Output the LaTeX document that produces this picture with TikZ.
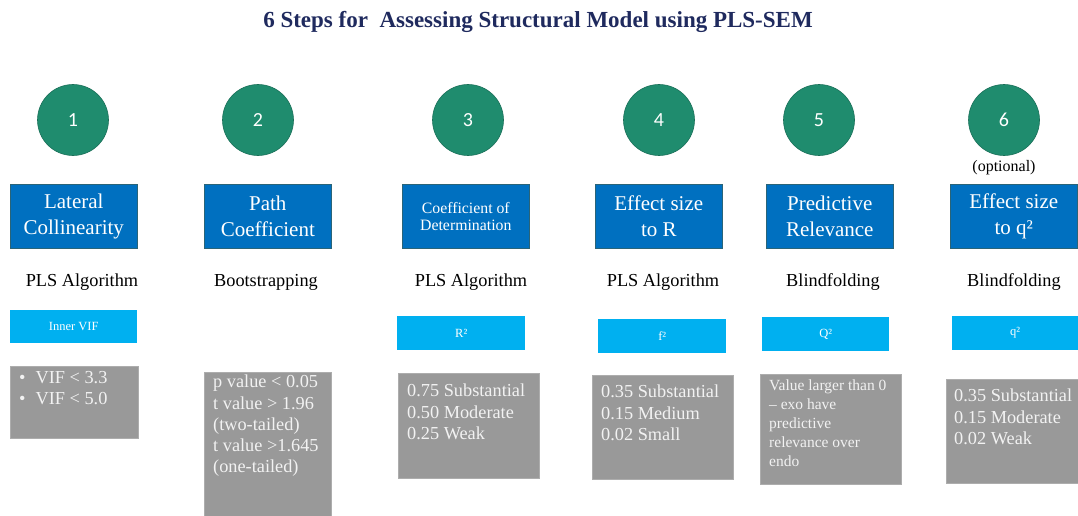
\documentclass[tikz,border=0pt]{standalone}
\usepackage{fontspec}
\setmainfont{Liberation Serif}
\newfontfamily\numfont{Carlito}
\definecolor{circfill}{HTML}{1F8C6E}
\definecolor{circline}{HTML}{1A6F58}
\definecolor{darkblue}{HTML}{0070C0}
\definecolor{bluebord}{HTML}{2A6478}
\definecolor{lightblue}{HTML}{00B0F0}
\definecolor{graybox}{HTML}{999999}
\definecolor{graytext}{HTML}{F2F2F2}
\definecolor{navy}{HTML}{1F2A5E}
\tikzset{
  stepcirc/.style={circle, fill=circfill, draw=circline, line width=0.6pt, minimum size=71pt, inner sep=0pt, text=white, font=\numfont\fontsize{20}{22}\selectfont},
  bluebox/.style={rectangle, fill=darkblue, draw=bluebord, line width=0.6pt, minimum width=127pt, minimum height=64pt, anchor=north west, inner sep=0pt, text=white, align=center, font=\fontsize{21}{26}\selectfont},
  lbbox/.style={rectangle, fill=lightblue, minimum width=127pt, minimum height=33pt, anchor=north west, inner sep=0pt, text=white, font=\fontsize{12.5}{14}\selectfont},
  gbox/.style={rectangle, fill=graybox, draw=graybox!80!white, line width=0.4pt, anchor=north west, inner sep=0pt},
  gtext/.style={anchor=north west, inner sep=0pt, text=graytext, align=left, font=\fontsize{18.3}{21.2}\selectfont},
  method/.style={inner sep=0pt, text=black, font=\fontsize{18.3}{20}\selectfont},
}
\begin{document}
\begin{tikzpicture}[x=1pt,y=-1pt]
\useasboundingbox (0,0) rectangle (1078,516);
\node[text=navy, font=\bfseries\fontsize{23}{26}\selectfont] (title) at (538,22) {6 Steps for\ \ Assessing Structural Model using PLS-SEM};

% circles
\node[stepcirc] (c1) at (73,120) {1};
\node[stepcirc] (c2) at (258,120) {2};
\node[stepcirc] (c3) at (468,120) {3};
\node[stepcirc] (c4) at (659,120) {4};
\node[stepcirc] (c5) at (819,120) {5};
\node[stepcirc] (c6) at (1004,120) {6};
\node[inner sep=0pt, font=\fontsize{16}{18}\selectfont] (opt) at (1004,168) {(optional)};

% dark blue boxes
\node[bluebox] (b1) at (10,184) {Lateral\\Collinearity};
\node[bluebox] (b2) at (204,184) {Path\\Coefficient};
\node[bluebox, font=\fontsize{15.8}{17}\selectfont] (b3) at (402,184) {Coefficient of\\Determination};
\node[bluebox] (b4) at (595,184) {Effect size\\to R};
\node[bluebox] (b5) at (766,184) {Predictive\\Relevance};
\node[bluebox] (b6) at (950,184) {Effect size\\to q²};

% methods
\node[method] (m1) at (82,282) {PLS Algorithm};
\node[method] (m2) at (266,282) {Bootstrapping};
\node[method] (m3) at (471,282) {PLS Algorithm};
\node[method] (m4) at (663,282) {PLS Algorithm};
\node[method] (m5) at (833,282) {Blindfolding};
\node[method] (m6) at (1014,282) {Blindfolding};

% light blue boxes
\node[lbbox] (l1) at (10,310) {Inner VIF};
\node[lbbox, minimum width=128pt, minimum height=34pt] (l3) at (397,316) {R²};
\node[lbbox, minimum width=128pt, minimum height=34pt] (l4) at (598,319) {f²};
\node[lbbox, minimum width=127pt, minimum height=34pt] (l5) at (762,317) {Q²};
\node[lbbox, minimum width=126pt, minimum height=34pt] (l6) at (952,316) {q²};

% gray boxes
\node[gbox, minimum width=128pt, minimum height=72pt] (g1) at (10,366) {};
\node[gbox, minimum width=127pt, minimum height=144pt] (g2) at (204,372) {};
\node[gbox, minimum width=141pt, minimum height=105pt] (g3) at (398,373) {};
\node[gbox, minimum width=141pt, minimum height=104pt] (g4) at (592,375) {};
\node[gbox, minimum width=141pt, minimum height=110pt] (g5) at (760,374) {};
\node[gbox, minimum width=132pt, minimum height=104pt] (g6) at (946,379) {};

\node[gtext] (t1) at (19,371) {\textbullet\hspace{10pt}VIF < 3.3\\\textbullet\hspace{10pt}VIF < 5.0};
\node[gtext] (t2) at (213,375) {p value < 0.05\\t value > 1.96\\(two-tailed)\\t value >1.645\\(one-tailed)};
\node[gtext] (t3) at (407,384) {0.75 Substantial\\0.50 Moderate\\0.25 Weak};
\node[gtext] (t4) at (601,385) {0.35 Substantial\\0.15 Medium\\0.02 Small};
\node[gtext, font=\fontsize{15.5}{19}\selectfont] (t5) at (769,380) {Value larger than 0\\– exo have\\predictive\\relevance over\\endo};
\node[gtext] (t6) at (954,389) {0.35 Substantial\\0.15 Moderate\\0.02 Weak};
\end{tikzpicture}
\end{document}
